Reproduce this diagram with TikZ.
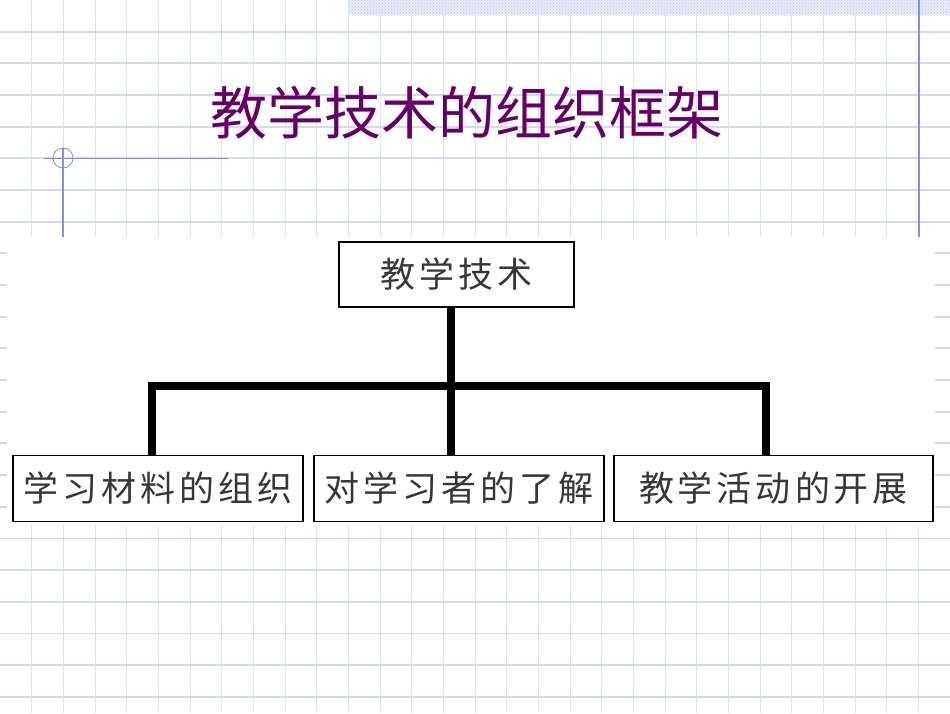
\documentclass[tikz,border=0pt]{standalone}
\usepackage{fontspec}
\newfontfamily\cjk{Noto Sans CJK SC}
\usetikzlibrary{patterns}
\definecolor{gridblue}{RGB}{210,218,243}
\definecolor{gridlight}{RGB}{221,227,247}
\definecolor{darkblue}{RGB}{128,146,222}
\definecolor{titlepurple}{RGB}{102,0,102}
\definecolor{boxtext}{RGB}{55,55,55}
\definecolor{hatchbg}{RGB}{232,236,250}
\definecolor{hatchfg}{RGB}{190,202,242}
\newcommand\gp{\hspace{4pt}}
\begin{document}
\begin{tikzpicture}[x=1pt,y=-1pt,
  box/.style={draw=black, line width=1.5pt, fill=white, inner sep=0pt,
    minimum height=66pt, text=boxtext, font=\cjk\fontsize{35}{40}\selectfont},
  conn/.style={line width=8pt},
  gridv/.style={gridlight, line width=0.9pt},
  gridh/.style={gridblue, line width=1.8pt},
  margin/.style={darkblue, line width=1.2pt}]
\useasboundingbox (0,0) rectangle (950,713);
\fill[white] (0,0) rectangle (950,713);
% grid
\foreach \k in {1,...,29} \draw[gridv] ({\k*31.67},0) -- ({\k*31.67},713);
\foreach \k in {1,...,22} \draw[gridh] (0,{\k*31.67}) -- (950,{\k*31.67});
% hatched band
\fill[hatchbg] (348,0) rectangle (950,15);
\fill[pattern=crosshatch dots, pattern color=hatchfg] (348,0) rectangle (950,15);
% margin lines
\draw[margin] (919,0) -- (919,237);
\draw[margin] (63,148) -- (63,237);
\draw[margin, line width=1pt] (44,158) -- (228,158);
\draw[margin, line width=0.8pt] (63,158) circle[radius=10];
% white picture area
\fill[white] (7,237) rectangle (935,525);
% title
\node[text=titlepurple, font=\cjk\fontsize{57}{62}\selectfont, inner sep=0pt] (title) at (467,113) {教学技术的组织框架};
% boxes
\node[box, minimum width=235pt, minimum height=65pt] (top) at (456.5,274.5) {教\gp 学\gp 技\gp 术};
\node[box, minimum width=290pt] (b1) at (158,488.5) {学\gp 习\gp 材\gp 料\gp 的\gp 组\gp 织};
\node[box, minimum width=290pt] (b2) at (459,488.5) {对\gp 学\gp 习\gp 者\gp 的\gp 了\gp 解};
\node[box, minimum width=319pt] (b3) at (773.5,488.5) {教\gp 学\gp 活\gp 动\gp 的\gp 开\gp 展};
% connectors
\coordinate (L) at (152,386);
\coordinate (M) at (451,386);
\coordinate (R) at (766,386);
\draw[conn] (top.south -| M) -- (M |- b2.north);
\draw[conn] (L |- b1.north) -- (L) -- (R) -- (R |- b3.north);
\end{tikzpicture}
\end{document}
